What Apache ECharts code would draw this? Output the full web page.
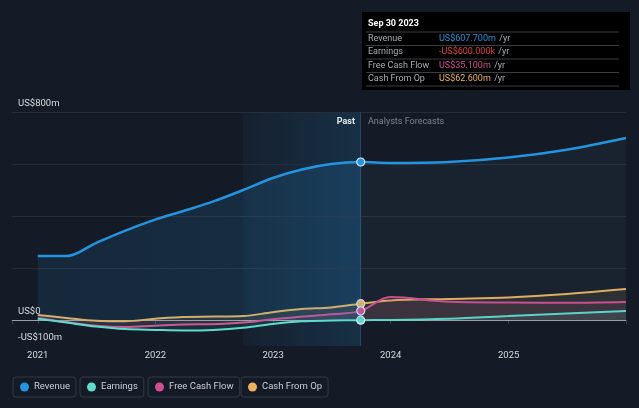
<!DOCTYPE html>
<html>
<head>
<meta charset="utf-8">
<script src="https://cdn.jsdelivr.net/npm/echarts@6/dist/echarts.min.js"></script>
<style>
html,body{margin:0;padding:0;background:#151b26;}
#chart{width:639px;height:408px;}
</style>
</head>
<body>
<div id="chart"></div>
<script>
// ---- data (US$ millions) ----
const dates = ['2021-01-01','2021-03-31','2021-06-30','2021-09-30','2021-12-31','2022-03-31','2022-06-30','2022-09-30','2022-12-31','2023-03-31','2023-06-30','2023-09-30','2023-12-31','2024-06-30','2024-12-31','2025-06-30','2025-12-31'];
const revenue      = [246, 246, 296, 344, 386, 420, 456, 500, 546, 579, 600, 607.7, 604, 608, 625, 655, 700];
const earnings     = [5, -10, -25, -35, -38, -40, -38, -30, -15, -5, -2, -0.6, 0, 5, 15, 25, 35];
const freeCashFlow = [8, -8, -22, -27, -22, -17, -16, -10, 3, 13, 22, 35.1, 88, 70, 67, 66, 69];
const cashFromOp   = [19, 8, -3, -5, 5, 12, 13, 15, 30, 42, 48, 62.6, 75, 81, 87, 100, 119];
const seriesNames  = ['Revenue', 'Earnings', 'Free Cash Flow', 'Cash From Op'];
const pastDate = '2023-09-30';
const pastLabel = 'Sep 30 2023';
const yTickLabels = {'-100': '-US$100m', '0': 'US$0', '800': 'US$800m'};

const colors = ['#2394df', '#5ddccd', '#d24f8f', '#ebb35c'];
const valueColors = ['#2394df', '#e0403f', '#d24f8f', '#ebb35c'];
const FONT = 'Roboto, "Open Sans", sans-serif';
const pastIdx = dates.indexOf(pastDate);

function buildData(arr, color) {
  return arr.map((v, i) => {
    if (i === pastIdx) {
      return {value: [dates[i], v], symbol: 'circle', symbolSize: 8,
        itemStyle: {color: color, borderColor: '#dfe6ee', borderWidth: 1.2}};
    }
    return {value: [dates[i], v]};
  });
}
function fmt(v) {
  const sign = v < 0 ? '-' : '';
  const a = Math.abs(v);
  if (a < 1) return sign + 'US$' + (a * 1000).toFixed(3) + 'k';
  return sign + 'US$' + a.toFixed(3) + 'm';
}

const all = [revenue, earnings, freeCashFlow, cashFromOp];

const chart = echarts.init(document.getElementById('chart'), null, {renderer: 'canvas'});

const series = all.map((arr, k) => {
  const s = {
    name: seriesNames[k],
    type: 'line',
    smooth: 0.35,
    symbol: 'none',
    showSymbol: true,
    data: buildData(arr, colors[k]),
    lineStyle: {color: colors[k], width: k === 0 ? 2.5 : 2},
    itemStyle: {color: colors[k]},
    z: 10 - k,
    silent: true
  };
  if (k === 0) {
    s.areaStyle = {
      color: new echarts.graphic.LinearGradient(0, 0, 1, 0, [
        {offset: 0, color: 'rgba(35,148,223,0.16)'},
        {offset: 0.549, color: 'rgba(35,148,223,0.22)'},
        {offset: 0.551, color: 'rgba(70,110,150,0.12)'},
        {offset: 1, color: 'rgba(70,110,150,0.12)'}
      ])
    };
    s.markArea = {
      silent: true,
      itemStyle: {
        color: new echarts.graphic.LinearGradient(0, 0, 1, 0, [
          {offset: 0, color: 'rgba(35,148,223,0.05)'},
          {offset: 1, color: 'rgba(35,148,223,0.17)'}
        ])
      },
      data: [[{xAxis: dates[pastIdx - 4]}, {xAxis: pastDate}]]
    };
    s.markLine = {
      silent: true,
      symbol: 'none',
      label: {show: false},
      data: [
        {xAxis: pastDate, lineStyle: {color: '#2b4663', width: 1, type: 'solid'}},
        {yAxis: 0, lineStyle: {color: '#9aa0a8', width: 1.2, type: 'solid'}}
      ]
    };
  } else {
    s.areaStyle = {color: colors[k], opacity: 0.1};
  }
  return s;
});

const legendLefts = [13, 80, 148, 241];
const legends = seriesNames.map((n, k) => ({
  data: [n],
  left: legendLefts[k],
  top: 377,
  padding: [5, 6, 5, 7],
  borderColor: '#323945',
  borderWidth: 1,
  borderRadius: 3,
  icon: 'circle',
  itemWidth: 9,
  itemHeight: 9,
  selectedMode: false,
  textStyle: {color: '#c9ced6', fontSize: 9.5, fontFamily: FONT}
}));

// tooltip-like box
const boxX = 362, boxY = 12, boxW = 268, rowH = 13.5;
const graphics = [
  {type: 'rect', shape: {x: boxX, y: boxY, width: boxW, height: 78}, style: {fill: '#000000'}, z: 100},
  {type: 'text', x: boxX + 6, y: boxY + 12, style: {text: pastLabel, fill: '#ffffff', font: 'bold 9px ' + FONT, textVerticalAlign: 'middle'}, z: 101}
];
seriesNames.forEach((n, k) => {
  const yLine = boxY + 20 + k * rowH;
  graphics.push({type: 'line', shape: {x1: boxX + 4, y1: yLine, x2: boxX + boxW - 11, y2: yLine}, style: {stroke: '#3a3d42', lineWidth: 1}, z: 101});
  const yText = yLine + 6.5;
  graphics.push({type: 'text', x: boxX + 6, y: yText, style: {text: n, fill: '#a9adb3', font: '9px ' + FONT, textVerticalAlign: 'middle'}, z: 101});
  graphics.push({type: 'text', x: boxX + 77, y: yText, style: {
    rich: {v: {fill: valueColors[k], font: '9px ' + FONT}, u: {fill: '#a9adb3', font: '9px ' + FONT}},
    text: '{v|' + fmt(all[k][pastIdx]) + '} {u|/yr}', textVerticalAlign: 'middle'}, z: 101});
});
graphics.push({type: 'line', shape: {x1: boxX + 4, y1: boxY + 20 + 4 * rowH, x2: boxX + boxW - 11, y2: boxY + 20 + 4 * rowH}, style: {stroke: '#3a3d42', lineWidth: 1}, z: 101});
graphics.push({type: 'text', x: 355, y: 122, style: {text: 'Past', fill: '#e6e8eb', font: 'bold 9px ' + FONT, textAlign: 'right', textVerticalAlign: 'middle'}, z: 50});
graphics.push({type: 'text', x: 368, y: 122, style: {text: 'Analysts Forecasts', fill: '#7f858d', font: '9px ' + FONT, textAlign: 'left', textVerticalAlign: 'middle'}, z: 50});

chart.setOption({
  backgroundColor: '#151b26',
  animation: false,
  textStyle: {fontFamily: FONT},
  grid: {left: 12, right: 13, top: 112, bottom: 62, containLabel: false},
  legend: legends,
  graphic: graphics,
  xAxis: {
    type: 'time',
    min: '2020-10-13',
    max: '2025-12-31',
    minInterval: 365 * 24 * 3600 * 1000,
    splitLine: {show: false},
    axisLine: {show: true, lineStyle: {color: '#2a303a', width: 1}},
    axisTick: {show: true, length: 4, lineStyle: {color: '#3a414c'}},
    axisLabel: {
      color: '#d7dbe0', fontSize: 9.5, margin: 5, fontFamily: FONT,
      showMinLabel: true, showMaxLabel: true,
      formatter: function (v) {
        const d = new Date(v);
        return (d.getMonth() === 0 && d.getDate() === 1) ? String(d.getFullYear()) : '';
      }
    }
  },
  yAxis: {
    type: 'value',
    min: -100,
    max: 800,
    interval: 100,
    axisLine: {show: false},
    axisTick: {show: false},
    splitLine: {show: true, lineStyle: {color: ['transparent', '#262d38'], width: 1}},
    axisLabel: {
      inside: true,
      margin: 6,
      color: '#d7dbe0',
      fontSize: 9.5,
      fontFamily: FONT,
      verticalAlign: 'bottom',
      padding: [0, 0, 3, 0],
      formatter: function (v) { return yTickLabels[String(v)] || ''; }
    },
    z: 5
  },
  series: series
});
</script>
</body>
</html>
